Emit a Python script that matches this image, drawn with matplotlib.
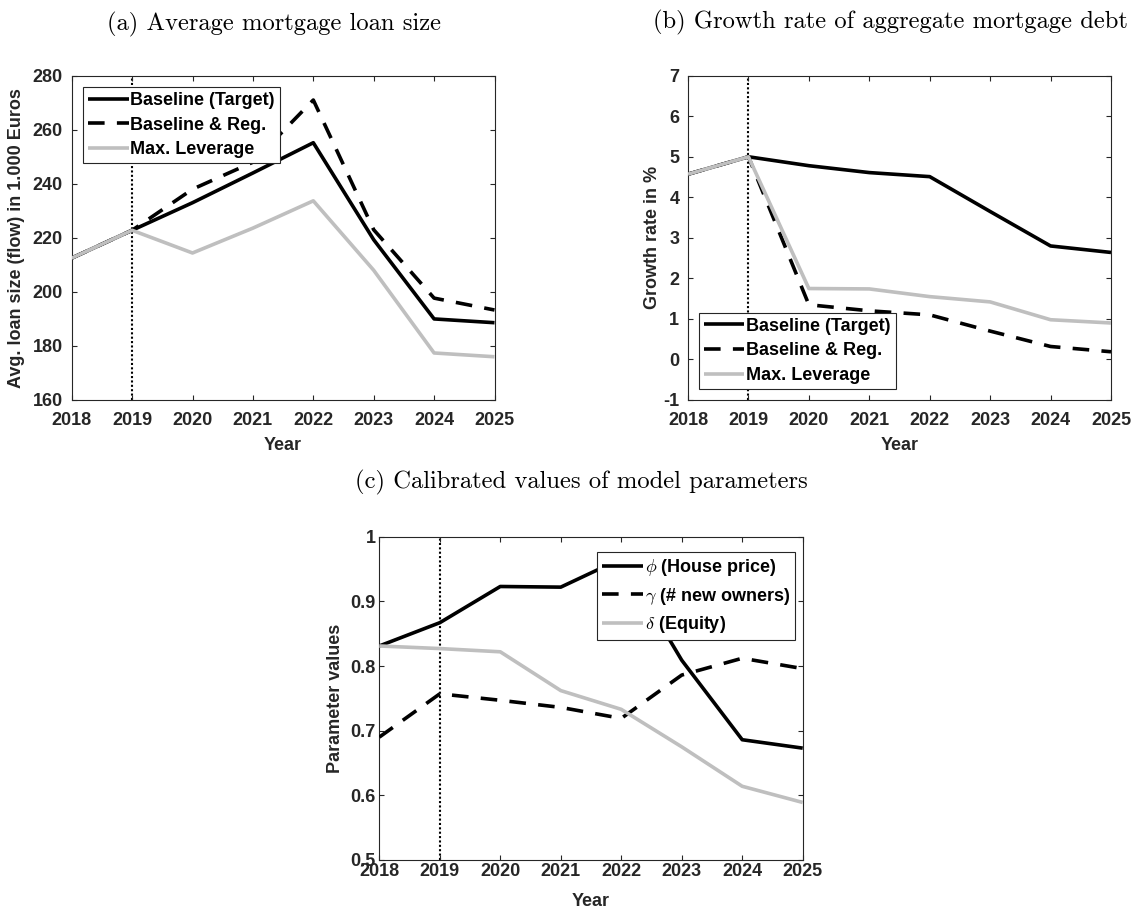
import matplotlib
matplotlib.use("Agg")
import matplotlib.pyplot as plt

plt.rcParams['font.family'] = ['Liberation Sans', 'DejaVu Sans']
plt.rcParams['font.weight'] = 'bold'
plt.rcParams['mathtext.fontset'] = 'cm'
plt.rcParams['axes.unicode_minus'] = False

# ---------------- data ----------------
years = [2018, 2019, 2020, 2021, 2022, 2023, 2024, 2025]
year_labels = ['2018', '2019', '2020', '2021', '2022', '2023', '2024', '2025']

# (a) Average mortgage loan size (1.000 Euros)
loan_baseline = [212.5, 222.8, 233.0, 244.0, 255.2, 219.3, 190.0, 188.6]
loan_reg = [212.5, 222.8, 238.0, 248.0, 271.0, 223.0, 197.7, 193.3]
loan_maxlev = [212.5, 222.8, 214.4, 223.6, 233.7, 208.0, 177.4, 176.0]
loan_yticks = [160, 180, 200, 220, 240, 260, 280]
loan_ylabels = ['160', '180', '200', '220', '240', '260', '280']

# (b) Growth rate of aggregate mortgage debt (%)
growth_baseline = [4.57, 5.00, 4.78, 4.61, 4.51, 3.65, 2.80, 2.64]
growth_reg = [4.57, 5.00, 1.35, 1.20, 1.10, 0.70, 0.32, 0.19]
growth_maxlev = [4.57, 5.00, 1.75, 1.74, 1.55, 1.42, 0.98, 0.90]
growth_yticks = [-1, 0, 1, 2, 3, 4, 5, 6, 7]
growth_ylabels = ['-1', '0', '1', '2', '3', '4', '5', '6', '7']

# (c) Calibrated parameter values
phi = [0.831, 0.867, 0.923, 0.922, 0.966, 0.809, 0.686, 0.673]
gamma = [0.690, 0.757, 0.747, 0.736, 0.719, 0.786, 0.812, 0.796]
delta = [0.831, 0.827, 0.822, 0.762, 0.733, 0.675, 0.614, 0.589]
param_yticks = [0.5, 0.6, 0.7, 0.8, 0.9, 1.0]
param_ylabels = ['0.5', '0.6', '0.7', '0.8', '0.9', '1']

legend_ab = ['Baseline (Target)', 'Baseline & Reg.', 'Max. Leverage']
legend_c = [r'$\phi$ (House price)', r'$\gamma$ (# new owners)', r'$\delta$ (Equity)']

titles = ['(a) Average mortgage loan size',
          '(b) Growth rate of aggregate mortgage debt',
          '(c) Calibrated values of model parameters']
ylabels = ['Avg. loan size (flow) in 1.000 Euros', 'Growth rate in %', 'Parameter values']
xlabel = 'Year'
vline_year = 2019

# ---------------- style ----------------
W, H = 1132, 910
DARK = '#262626'
GRAY = '#BFBFBF'
LW = 2.6
FS = 13
DASH = (4.6, 3.4)

fig = plt.figure(figsize=(W / 100, H / 100), dpi=100)


def px_axes(l, t, r, b):
    return fig.add_axes([l / W, 1 - b / H, (r - l) / W, (b - t) / H])


ax_a = px_axes(71.7, 75.7, 494.5, 400)
ax_b = px_axes(688, 75.7, 1111, 400)
ax_c = px_axes(379.3, 536.7, 802.7, 860)


def style(ax, ylim, yticks, ylabs, xpad, ypad, xlab_y):
    ax.set_xlim(years[0], years[-1])
    ax.set_ylim(*ylim)
    ax.set_xticks(years)
    ax.set_xticklabels(year_labels)
    ax.set_yticks(yticks)
    ax.set_yticklabels(ylabs)
    ax.tick_params(direction='in', top=True, right=True, length=3.5, width=0.8,
                   colors=DARK, labelsize=FS)
    ax.tick_params(axis='x', pad=xpad)
    ax.tick_params(axis='y', pad=ypad)
    for t in ax.get_xticklabels() + ax.get_yticklabels():
        t.set_fontweight('bold')
    for s in ax.spines.values():
        s.set_color(DARK)
        s.set_linewidth(0.8)
    ax.axvline(vline_year, color='black', lw=1.5, ls=(0, (1, 1.1)), zorder=1)
    ax.set_xlabel(xlabel, fontsize=FS, fontweight='bold', color=DARK)
    ax.xaxis.set_label_coords(0.5, xlab_y)
    ax.xaxis.label.set_va('top')


def lines(ax, s1, s2, s3):
    ax.plot(years, s1, color='black', lw=LW, solid_capstyle='butt', zorder=3)
    ax.plot(years, s2, color='black', lw=LW, ls='--', dashes=DASH, zorder=3)
    ax.plot(years, s3, color=GRAY, lw=LW, solid_capstyle='butt', zorder=3)


def legend(ax, labels, loc, xpx, ypx):
    leg = ax.legend(labels, loc=loc, bbox_to_anchor=(xpx / W, 1 - ypx / H),
                    bbox_transform=fig.transFigure, borderaxespad=0,
                    fancybox=False, framealpha=1, edgecolor=DARK,
                    prop={'size': FS, 'weight': 'bold'},
                    handlelength=2.25, handletextpad=0.1, borderpad=0.28,
                    labelspacing=0.42)
    leg.get_frame().set_linewidth(0.8)
    leg.set_zorder(5)
    return leg


# (a)
lines(ax_a, loan_baseline, loan_reg, loan_maxlev)
style(ax_a, (160, 280), loan_yticks, loan_ylabels, 8.5, 6.3, -0.114)
ax_a.set_ylabel(ylabels[0], fontsize=FS, fontweight='bold', color=DARK)
ax_a.yaxis.set_label_coords(-0.110, 0.5)
legend(ax_a, legend_ab, 'upper left', 83, 87)

# (b)
lines(ax_b, growth_baseline, growth_reg, growth_maxlev)
style(ax_b, (-1, 7), growth_yticks, growth_ylabels, 8.5, 6.3, -0.114)
ax_b.set_ylabel(ylabels[1], fontsize=FS, fontweight='bold', color=DARK)
ax_b.yaxis.set_label_coords(-0.064, 0.5)
legend(ax_b, legend_ab, 'lower left', 698.5, 389)

# (c)
lines(ax_c, phi, gamma, delta)
style(ax_c, (0.5, 1.0), param_yticks, param_ylabels, 2.0, 2.4, -0.102)
ax_c.set_ylabel(ylabels[2], fontsize=FS, fontweight='bold', color=DARK)
ax_c.yaxis.set_label_coords(-0.083, 0.5)
legend(ax_c, legend_c, 'upper right', 795, 552)

# titles (serif, Computer Modern)
title_pos = [(274, 24), (890, 22.5), (581.5, 482)]
tobjs = []
for txt, (x, y) in zip(titles, title_pos):
    tobjs.append(fig.text(x / W, 1 - y / H, txt, fontfamily='cmr10', fontweight='normal',
                          fontsize=16, ha='center', va='center', color='black'))
fig.canvas.draw()
r = fig.canvas.get_renderer()
w = tobjs[2].get_window_extent(r).width
size = 16 * 453 / w
for t in tobjs:
    t.set_fontsize(size)

fig.savefig('out.png', dpi=100)
